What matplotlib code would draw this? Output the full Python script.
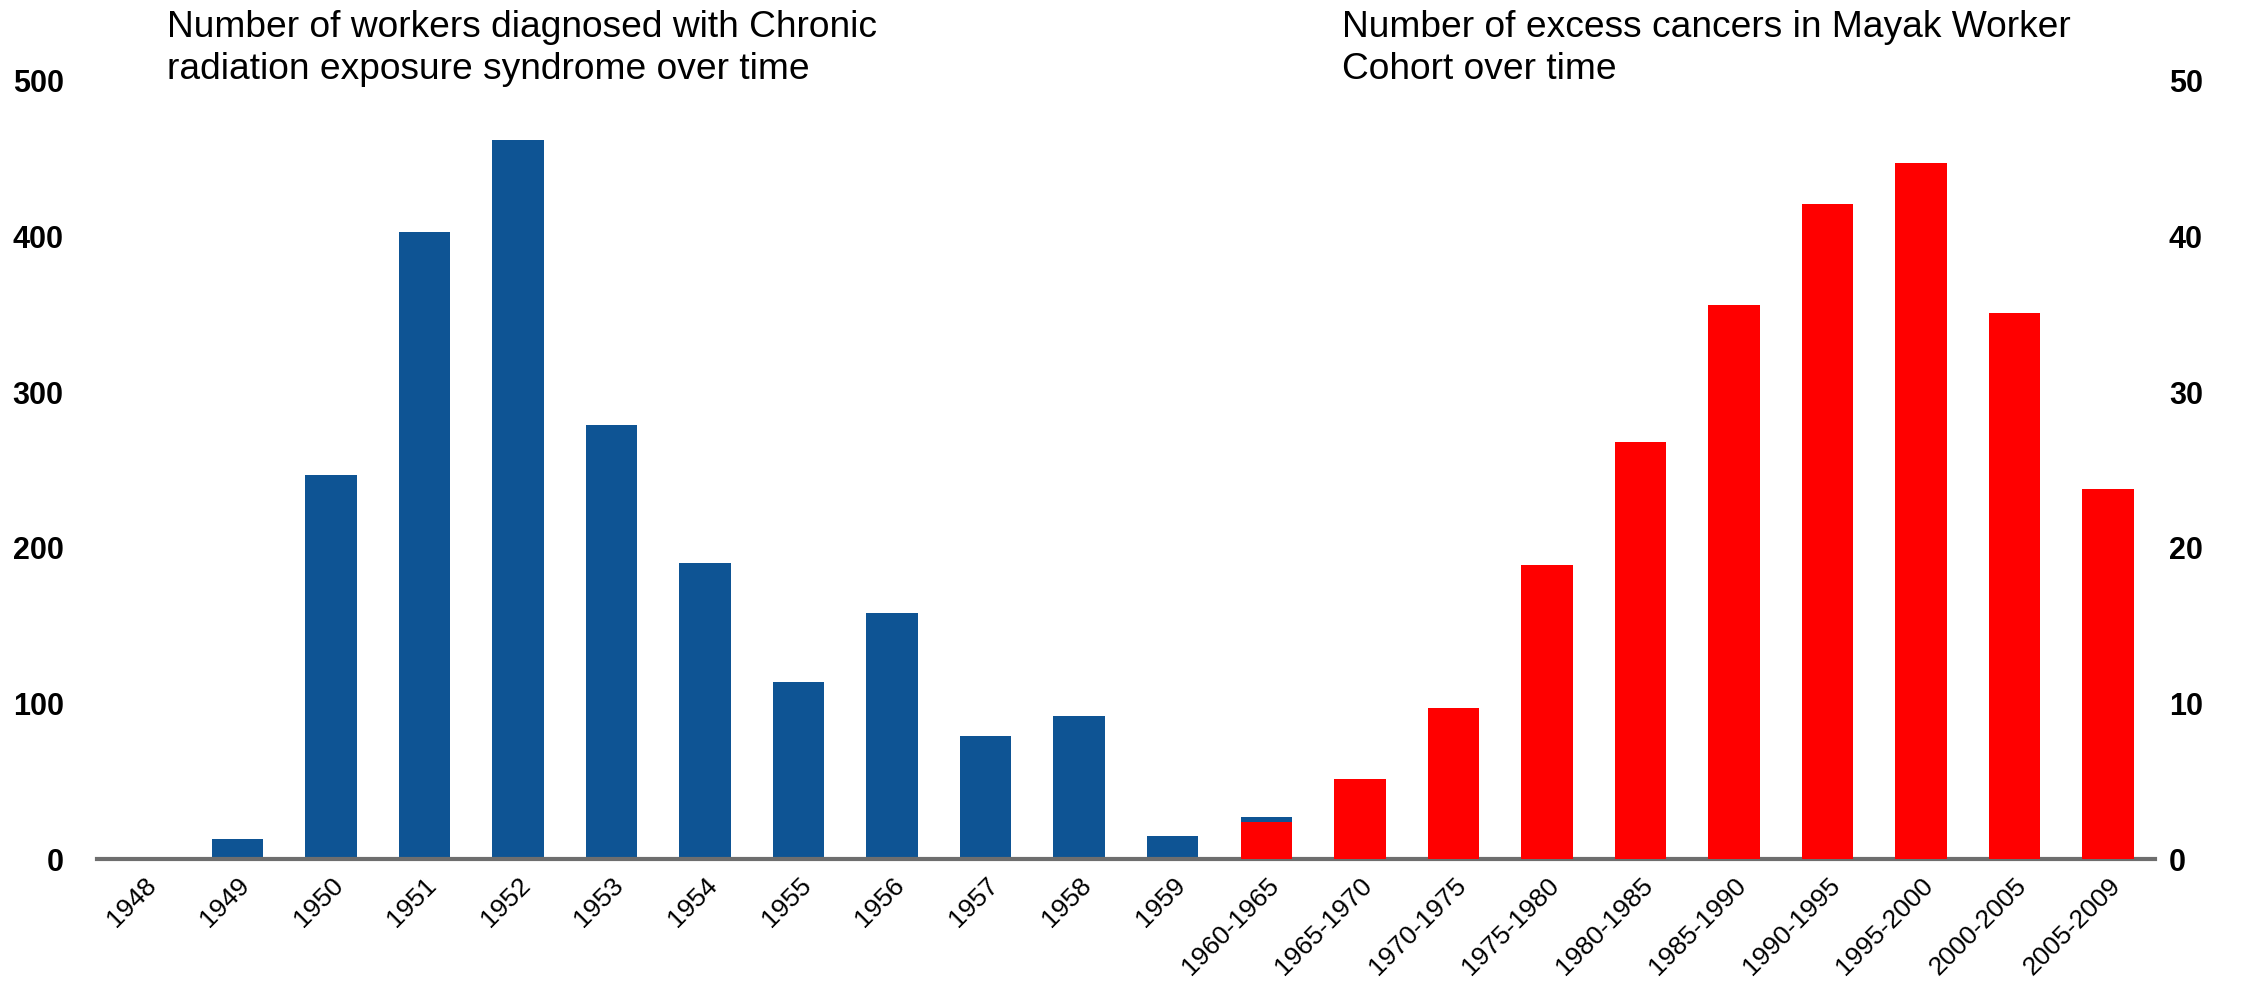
import matplotlib.pyplot as plt
import matplotlib.transforms as mtransforms
import numpy as np

# CRES diagnoses per year (left axis) and excess cancers per period (right axis)
years = ['1948', '1949', '1950', '1951', '1952', '1953', '1954', '1955',
         '1956', '1957', '1958', '1959', '1960-1965']
cres_cases = [0, 13, 247, 403, 462, 279, 190, 114, 158, 79, 92, 15, 27]

periods = ['1960-1965', '1965-1970', '1970-1975', '1975-1980', '1980-1985',
           '1985-1990', '1990-1995', '1995-2000', '2000-2005', '2005-2009']
excess_cancers = [2.4, 5.15, 9.7, 18.9, 26.8, 35.6, 42.1, 44.7, 35.1, 23.8]

labels = years + periods[1:]

plt.rcParams['font.family'] = ['Liberation Sans', 'DejaVu Sans']

fig = plt.figure(figsize=(22.41, 9.83), dpi=100)
ax = fig.add_axes([0.0433, 0.126, 0.9183, 0.7916])
ax2 = ax.twinx()

x_blue = np.arange(len(years))
x_red = np.arange(len(years) - 1, len(years) - 1 + len(periods))

ax.bar(x_blue, cres_cases, width=0.55, color='#0E5494')
ax2.bar(x_red, excess_cancers, width=0.55, color='#FF0000')

ax.set_xlim(-0.5, len(labels) - 0.5)
ax.set_ylim(0, 500)
ax2.set_ylim(0, 50)
ax.set_yticks([0, 100, 200, 300, 400, 500])
ax2.set_yticks([0, 10, 20, 30, 40, 50])

ax.set_xticks(np.arange(len(labels)))
ax.set_xticklabels(labels, rotation=45, ha='right', rotation_mode='anchor',
                   fontsize=19)

# nudge the slanted labels so their ends sit under the bars
shift = mtransforms.ScaledTranslation(-10 / 72, 0, fig.dpi_scale_trans)
for t in ax.get_xticklabels():
    t.set_transform(t.get_transform() + shift)

for a in (ax, ax2):
    for side in ('top', 'left', 'right', 'bottom'):
        a.spines[side].set_visible(False)
    a.tick_params(length=0)

ax.spines['bottom'].set_visible(True)
ax.spines['bottom'].set_color('#6E6E6E')
ax.spines['bottom'].set_linewidth(3)

ax.tick_params(axis='y', labelsize=22, pad=24)
ax2.tick_params(axis='y', labelsize=22, pad=10)
ax.tick_params(axis='x', pad=10)
for t in ax.get_yticklabels() + ax2.get_yticklabels():
    t.set_fontweight('bold')

fig.text(0.0745, 0.99, 'Number of workers diagnosed with Chronic\nradiation exposure syndrome over time',
         fontsize=26.7, va='top', ha='left', linespacing=1.25)
fig.text(0.599, 0.99, 'Number of excess cancers in Mayak Worker\nCohort over time',
         fontsize=26.7, va='top', ha='left', linespacing=1.25)

fig.savefig('out.png', dpi=100)
